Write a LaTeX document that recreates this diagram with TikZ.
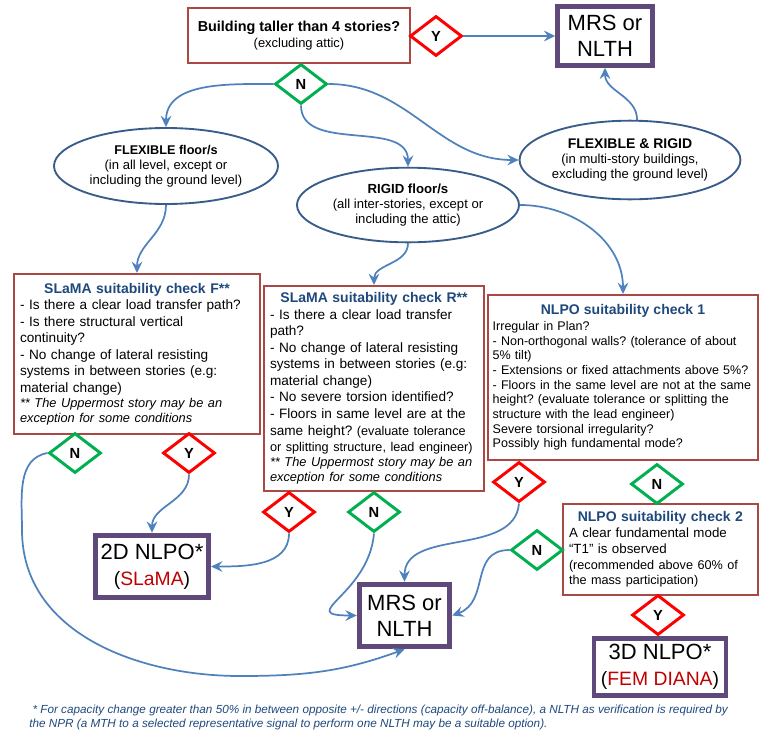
\documentclass[tikz,border=0pt]{standalone}
\usepackage{fontspec}
\setmainfont{Liberation Sans}
\usepackage{xcolor}
\usepackage{tikz}
\usetikzlibrary{arrows.meta,shapes.geometric}
\definecolor{checkred}{RGB}{170,72,70}
\definecolor{resultpurple}{RGB}{95,73,122}
\definecolor{floorblue}{RGB}{56,93,138}
\definecolor{flowblue}{RGB}{79,129,189}
\definecolor{headblue}{RGB}{31,73,125}
\definecolor{yesred}{RGB}{255,0,0}
\definecolor{nogreen}{RGB}{0,176,80}
\definecolor{labelred}{RGB}{192,0,0}
\newcommand{\chead}[1]{\makebox[\linewidth]{\fontsize{10.5}{12.4}\selectfont\bfseries\color{headblue}#1}}
\newcommand{\cnote}{\fontsize{9.6}{11}\selectfont\itshape}
\frenchspacing

\begin{document}
\begin{tikzpicture}[x=0.75pt,y=-0.75pt,
  checkbox/.style={draw=checkred,line width=1.5pt,fill=white,anchor=north west,align=left,
    inner xsep=4.5pt,inner ysep=0pt,font=\fontsize{10.2}{12.4}\selectfont},
  result/.style={draw=resultpurple,line width=3.6pt,fill=white,align=center,inner sep=0pt,
    font=\fontsize{16.5}{19.5}\selectfont},
  floorshape/.style={ellipse,draw=floorblue,line width=1.4pt,fill=white,align=center,inner sep=0pt,
    font=\fontsize{9.8}{11.3}\selectfont},
  yesdiamond/.style={diamond,draw=yesred,line width=2.2pt,fill=white,inner sep=0pt,
    minimum width=39pt,minimum height=30pt,font=\fontsize{11}{13}\selectfont\bfseries},
  nodiamond/.style={yesdiamond,draw=nogreen},
  flow/.style={draw=flowblue,line width=1.3pt,-{Stealth[length=8.5pt,width=8pt,inset=3pt]}}]
  \useasboundingbox (0,0) rectangle (770,732);

  % Question and floor types
  \node[draw=checkred,line width=1.5pt,fill=white,align=center,minimum width=166.5pt,
    minimum height=41pt,inner sep=0pt] (tall) at (299,35.5)
    {\fontsize{10.8}{12}\selectfont\bfseries Building taller than 4 stories?\\
     \fontsize{9.7}{12}\selectfont\mdseries (excluding attic)};
  \node[result,minimum width=71pt,minimum height=44pt] (mrstop) at (605,36) {MRS or\\NLTH};
  \node[floorshape,minimum width=168pt,minimum height=57pt] (flex) at (166,166)
    {{\fontsize{9.5}{11.3}\selectfont\bfseries FLEXIBLE floor/s}\\(in all level, except or\\including the ground level)};
  \node[floorshape,minimum width=166.5pt,minimum height=56pt] (rigid) at (408,205)
    {{\fontsize{9.9}{11.3}\selectfont\bfseries RIGID floor/s}\\(all inter-stories, except or\\including the attic)};
  \node[floorshape,minimum width=153pt,minimum height=59pt] (flexrig) at (630,160)
    {{\fontsize{10.5}{11.3}\selectfont\bfseries FLEXIBLE \& RIGID}\\(in multi-story buildings,\\excluding the ground level)};

  % Suitability checks
  \node[checkbox,text width=175.5pt,minimum height=120pt] (chkF) at (13,273)
    {\chead{SLaMA suitability check F**}\\
     - Is there a clear load transfer path?\\
     - Is there structural vertical\\
     continuity?\\
     - No change of lateral resisting\\
     systems in between stories (e.g:\\
     material change)\\[-1.2pt]
     {\cnote ** The Uppermost story may be an}\\[-1.2pt]
     {\cnote exception for some conditions}};
  \node[checkbox,text width=156pt,minimum height=153.5pt] (chkR) at (263,285)
    {\chead{SLaMA suitability check R**}\\
     - Is there a clear load transfer\\
     path?\\
     - No change of lateral resisting\\
     systems in between stories (e.g:\\
     material change)\\
     - No severe torsion identified?\\
     - Floors in same level are at the\\
     same height? {\fontsize{9.5}{11}\selectfont (evaluate tolerance}\\
     {\fontsize{9.5}{11}\selectfont or splitting structure, lead engineer)}\\[-1.2pt]
     {\cnote ** The Uppermost story may be an}\\[-1.2pt]
     {\cnote exception for some conditions}};
  \node[checkbox,text width=195.5pt,inner xsep=3.5pt,minimum height=123.5pt,
    font=\fontsize{9.4}{11}\selectfont] (nlpoA) at (487,294)
    {\chead{NLPO suitability check 1}\\[1pt]
     Irregular in Plan?\\
     - Non-orthogonal walls? (tolerance of about\\
     5\% tilt)\\
     - Extensions or fixed attachments above 5\%?\\
     - Floors in the same level are not at the same\\
     height? (evaluate tolerance or splitting the\\
     structure with the lead engineer)\\
     Severe torsional irregularity?\\
     Possibly high fundamental mode?};
  \node[checkbox,text width=137pt,minimum height=68pt,font=\fontsize{10}{12}\selectfont] (nlpoB) at (562,503)
    {\chead{NLPO suitability check 2}\\
     A clear fundamental mode\\
     “T1” is observed\\
     {\fontsize{9.5}{11}\selectfont (recommended above 60\% of}\\[-1pt]
     {\fontsize{9.5}{11}\selectfont the mass participation)}};

  % Outcomes
  \node[result,minimum width=85pt,minimum height=47pt] (slama2d) at (152,566.5)
    {2D NLPO*\\{\fontsize{14.5}{19.5}\selectfont(\textcolor{labelred}{SLaMA})}};
  \node[result,minimum width=68pt,minimum height=47pt] (mrsbot) at (404.5,615.5) {MRS or\\NLTH};
  \node[result,minimum width=99pt,minimum height=43pt] (fem3d) at (660,667)
    {3D NLPO*\\{\fontsize{14.5}{19.5}\selectfont(\textcolor{labelred}{FEM DIANA})}};

  % Yes / No decisions
  \foreach \name/\pos in {ytop/{(436,36)},yF/{(189,453)},yR/{(289,512)},yA/{(519,482)},yB/{(658,615)}}
    \node[yesdiamond] (\name) at \pos {Y};
  \foreach \name/\pos in {ntop/{(301,84)},nF/{(75,453)},nR/{(374,512)},nA/{(657,484)},nB/{(537,550)}}
    \node[nodiamond] (\name) at \pos {N};

  % Connectors
  \draw[flow] (ytop.east) -- (mrstop.west);
  \draw[flow] (ntop.west) to[out=180,in=90] (flex.north);
  \draw[flow] (ntop.south) to[out=-90,in=90] (rigid.north);
  \draw[flow] (ntop.east) to[out=0,in=180] (flexrig.west);
  \draw[flow] (flexrig.80) to[out=90,in=-90] (mrstop.south);
  \draw[flow] (flex.south) to[out=-90,in=90] (chkF.north);
  \draw[flow] (rigid.south) to[out=-90,in=90] (chkR.north);
  \draw[flow] (rigid.east) to[out=0,in=90] (nlpoA.north);
  \draw[flow] (yF.south) to[out=-90,in=90] (slama2d.north);
  \draw[flow] (yR.south) to[out=-90,in=0] (slama2d.east);
  \draw[flow] (nR.south) to[out=-95,in=180,looseness=1.9] (mrsbot.west);
  \draw[flow] (yA.south) to[out=-95,in=90] (mrsbot.north);
  \draw[flow] (nB.west) to[out=180,in=20,looseness=1.2] (mrsbot.east);
  \draw[flow] (nF.west) to[out=190,in=90] (22,530) to[out=-90,in=180] (240,676)
    to[out=0,in=200] (mrsbot.south);

  % Footnote
  \node[anchor=north west,align=left,inner sep=0pt,text=headblue,
    font=\fontsize{8.8}{10.5}\selectfont\itshape] (note) at (29,705)
    {\ * For capacity change greater than 50\% in between opposite +/- directions (capacity off-balance), a NLTH as verification is required by\\
     the NPR (a MTH to a selected representative signal to perform one NLTH may be a suitable option).};
\end{tikzpicture}
\end{document}
